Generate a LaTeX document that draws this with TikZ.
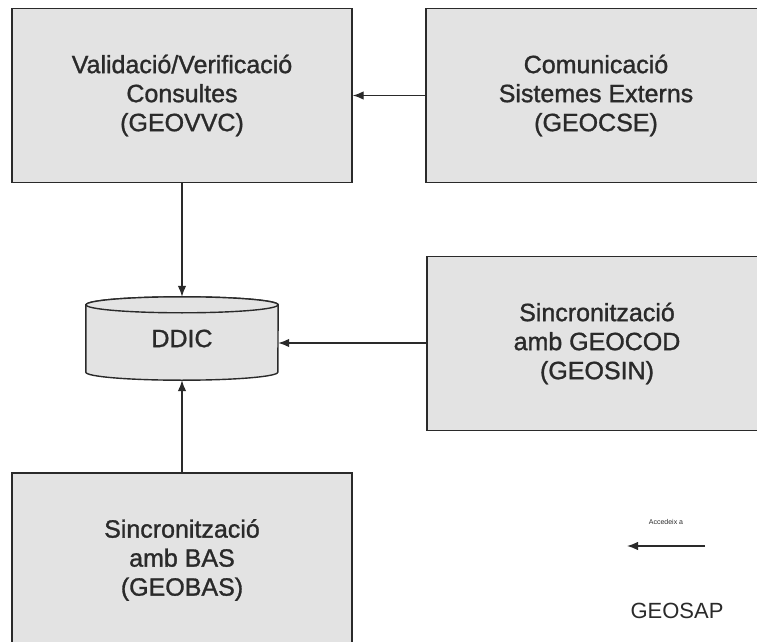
\documentclass[tikz,border=0pt]{standalone}
\usepackage{fontspec}
\setmainfont{Liberation Sans}
\newfontfamily\heavysans[FakeBold=1.2]{Liberation Sans}
\usetikzlibrary{arrows.meta,calc}
\definecolor{boxfill}{HTML}{E3E3E3}
\definecolor{ink}{HTML}{2A2A2A}
\begin{document}
\begin{tikzpicture}[x=1pt,y=1pt,
  module/.style={draw=ink, line width=1.4pt, fill=boxfill, text=ink,
    minimum width=340pt, minimum height=174pt, inner sep=0pt,
    align=center, font=\heavysans\fontsize{25}{29}\selectfont},
  link/.style={draw=ink, line width=1.3pt, -{Latex[length=11pt,width=8.5pt]}},
]
\useasboundingbox (0,0) rectangle (757,641);

% modules
\node[module] (vvc) at (182,545.5) {Validació/Verificació\\Consultes\\(GEOVVC)};
\node[module] (cse) at (596,545.5) {Comunicació\\Sistemes Externs\\(GEOCSE)};
\node[module] (sin) at (597,297.5) {Sincronització\\amb GEOCOD\\(GEOSIN)};
\node[module] (bas) at (182,81) {Sincronització\\amb BAS\\(GEOBAS)};

% data dictionary (cylinder)
\node[minimum width=192pt, minimum height=83pt, inner sep=0pt] (ddic) at (182,302.5) {};
\draw[draw=ink, line width=1.4pt, fill=boxfill]
  ($(ddic.north west)+(0,-8)$) -- ($(ddic.south west)+(0,8)$)
  arc[start angle=180, end angle=360, x radius=96pt, y radius=8pt]
  -- ($(ddic.north east)+(0,-8)$)
  arc[start angle=0, end angle=180, x radius=96pt, y radius=8pt] -- cycle;
\draw[draw=ink, line width=1.4pt, fill=boxfill]
  ($(ddic.north)+(0,-8)$) ellipse[x radius=96pt, y radius=8pt];
\node[text=ink, font=\heavysans\fontsize{25}{29}\selectfont] (ddiclabel) at (ddic.center) {DDIC};

% connectors
\draw[link] (cse.west) -- (vvc.east);
\draw[link] (vvc.south) -- (ddic.north);
\draw[link] (sin.west |- 0,298) coordinate (sinout) -- (sinout -| ddic.east);
\draw[link] (bas.north) -- (ddic.south);

% legend
\coordinate (lgA) at (705,95);
\coordinate (lgB) at (627,95);
\draw[link] (lgA) -- (lgB);
\node[text=ink, font=\fontsize{7}{8}\selectfont] (lgtext) at (666,119) {Accedeix a};
\node[text=ink, font=\fontsize{22}{26}\selectfont] (geosap) at (677,30) {GEOSAP};
\end{tikzpicture}
\end{document}
